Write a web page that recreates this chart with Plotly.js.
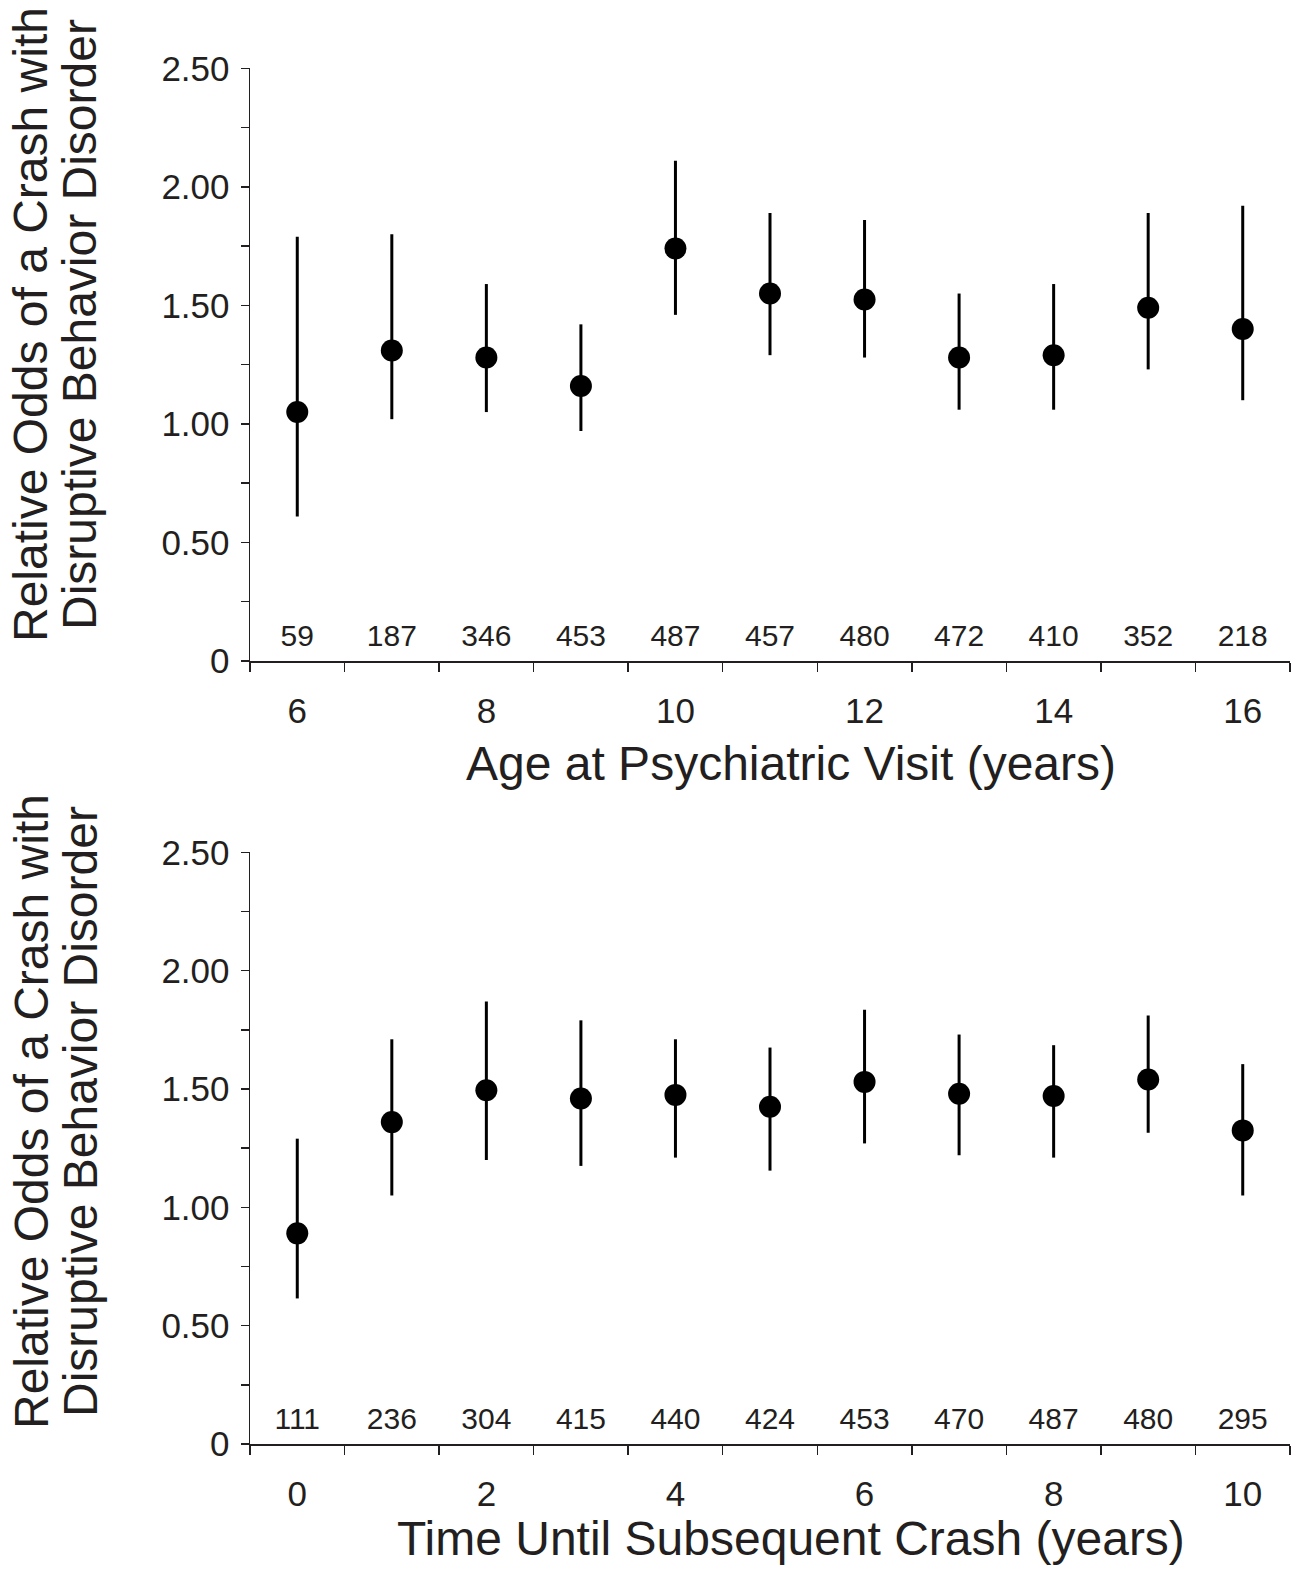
<!DOCTYPE html>
<html>
<head>
<meta charset="utf-8">
<script src="https://cdn.plot.ly/plotly-3.0.1.min.js"></script>
<style>
  html, body { margin: 0; padding: 0; background: #ffffff; }
  #chart { width: 1291px; height: 1570px; }
</style>
</head>
<body>
<div id="chart"></div>
<script>
// ---- Panel A: age at psychiatric visit ----
const ageCategories = [6, 7, 8, 9, 10, 11, 12, 13, 14, 15, 16];
const ageOdds  = [1.05, 1.31, 1.28, 1.16, 1.74, 1.55, 1.525, 1.28, 1.29, 1.49, 1.40];
const ageUpper = [1.79, 1.80, 1.59, 1.42, 2.11, 1.89, 1.86, 1.55, 1.59, 1.89, 1.92];
const ageLower = [0.61, 1.02, 1.05, 0.97, 1.46, 1.29, 1.28, 1.06, 1.06, 1.23, 1.10];
const ageCounts = [59, 187, 346, 453, 487, 457, 480, 472, 410, 352, 218];
const ageTickLabels = [6, 8, 10, 12, 14, 16];

// ---- Panel B: time until subsequent crash ----
const timeCategories = [0, 1, 2, 3, 4, 5, 6, 7, 8, 9, 10];
const timeOdds  = [0.89, 1.36, 1.495, 1.46, 1.475, 1.425, 1.53, 1.48, 1.47, 1.54, 1.325];
const timeUpper = [1.29, 1.71, 1.87, 1.79, 1.71, 1.675, 1.835, 1.73, 1.685, 1.81, 1.605];
const timeLower = [0.615, 1.05, 1.20, 1.175, 1.21, 1.155, 1.27, 1.22, 1.21, 1.315, 1.05];
const timeCounts = [111, 236, 304, 415, 440, 424, 453, 470, 487, 480, 295];
const timeTickLabels = [0, 2, 4, 6, 8, 10];

// ---- y-axis ticks ----
const yTickVals = [0, 0.25, 0.5, 0.75, 1.0, 1.25, 1.5, 1.75, 2.0, 2.25, 2.5];
const yTickText = ['0', '', '0.50', '', '1.00', '', '1.50', '', '2.00', '', '2.50'];

// ---- text ----
const yTitleLine1 = 'Relative Odds of a Crash with';
const yTitleLine2 = 'Disruptive Behavior Disorder';
const xTitleA = 'Age at Psychiatric Visit (years)';
const xTitleB = 'Time Until Subsequent Crash (years)';

// ---- style ----
const INK = '#231f20';
const FONT = 'Liberation Sans, Arial, Helvetica, sans-serif';
const countLabelY = 0.095;
const W = 1291, H = 1570;
const px = v => v / W;
const py = v => (H - v) / H;

function panelTraces(cats, odds, upper, lower, counts, xa, ya) {
  return [
    {
      type: 'scatter', mode: 'markers', x: cats, y: odds, xaxis: xa, yaxis: ya,
      marker: { color: '#000000', size: 22 },
      error_y: {
        type: 'data', symmetric: false,
        array: upper.map((u, i) => u - odds[i]),
        arrayminus: lower.map((l, i) => odds[i] - l),
        width: 0, thickness: 3, color: '#000000'
      },
      hoverinfo: 'x+y'
    },
    {
      type: 'scatter', mode: 'text', x: cats, y: cats.map(() => countLabelY),
      xaxis: xa, yaxis: ya, text: counts.map(String),
      textposition: 'middle center',
      textfont: { family: FONT, size: 30, color: INK },
      hoverinfo: 'skip'
    }
  ];
}

function xAxis(cats, labels, anchor) {
  const lo = cats[0] - 0.5, hi = cats[cats.length - 1] + 0.5;
  return {
    domain: [px(250), px(1290)], anchor: anchor,
    range: [lo, hi], showgrid: false, zeroline: false,
    showline: true, linecolor: INK, linewidth: 1.5,
    tickmode: 'array', tickvals: labels, ticktext: labels.map(String),
    ticks: '', ticklabelstandoff: 18,
    tickfont: { family: FONT, size: 35, color: INK },
    minor: { tickmode: 'linear', tick0: lo, dtick: 1, ticks: 'outside', ticklen: 9, tickwidth: 1.5, tickcolor: INK, showgrid: false },
    fixedrange: true
  };
}

function yAxis(domain, anchor) {
  return {
    domain: domain, anchor: anchor, range: [0, 2.5],
    showgrid: false, zeroline: false, showline: true, linecolor: INK, linewidth: 1.5,
    tickmode: 'array', tickvals: yTickVals, ticktext: yTickText,
    ticks: 'outside', ticklen: 8, tickwidth: 1.5, tickcolor: INK,
    ticklabelstandoff: 4,
    tickfont: { family: FONT, size: 35, color: INK },
    fixedrange: true
  };
}

const data = [].concat(
  panelTraces(ageCategories, ageOdds, ageUpper, ageLower, ageCounts, 'x', 'y'),
  panelTraces(timeCategories, timeOdds, timeUpper, timeLower, timeCounts, 'x2', 'y2')
);

function yTitle(line, xPix, yPix) {
  return { xref: 'paper', yref: 'paper', x: px(xPix), y: py(yPix), text: line,
    textangle: -90, showarrow: false, xanchor: 'center', yanchor: 'middle',
    font: { family: FONT, size: 48, color: INK } };
}
function xTitle(text, xPix, yPix) {
  return { xref: 'paper', yref: 'paper', x: px(xPix), y: py(yPix), text: text,
    showarrow: false, xanchor: 'center', yanchor: 'middle',
    font: { family: FONT, size: 48, color: INK } };
}

const layout = {
  width: W, height: H,
  margin: { l: 0, r: 0, t: 0, b: 0 },
  paper_bgcolor: '#ffffff', plot_bgcolor: '#ffffff',
  showlegend: false,
  font: { family: FONT, color: INK },
  xaxis: xAxis(ageCategories, ageTickLabels, 'y'),
  yaxis: yAxis([py(661), py(68.3)], 'x'),
  xaxis2: xAxis(timeCategories, timeTickLabels, 'y2'),
  yaxis2: yAxis([py(1444), py(852.3)], 'x2'),
  annotations: [
    yTitle(yTitleLine1, 31, 325),
    yTitle(yTitleLine2, 80, 325),
    yTitle(yTitleLine1, 31, 1112),
    yTitle(yTitleLine2, 80, 1112),
    xTitle(xTitleA, 791, 763),
    xTitle(xTitleB, 791, 1538)
  ]
};

Plotly.newPlot('chart', data, layout, { displayModeBar: false, staticPlot: true });
</script>
</body>
</html>
